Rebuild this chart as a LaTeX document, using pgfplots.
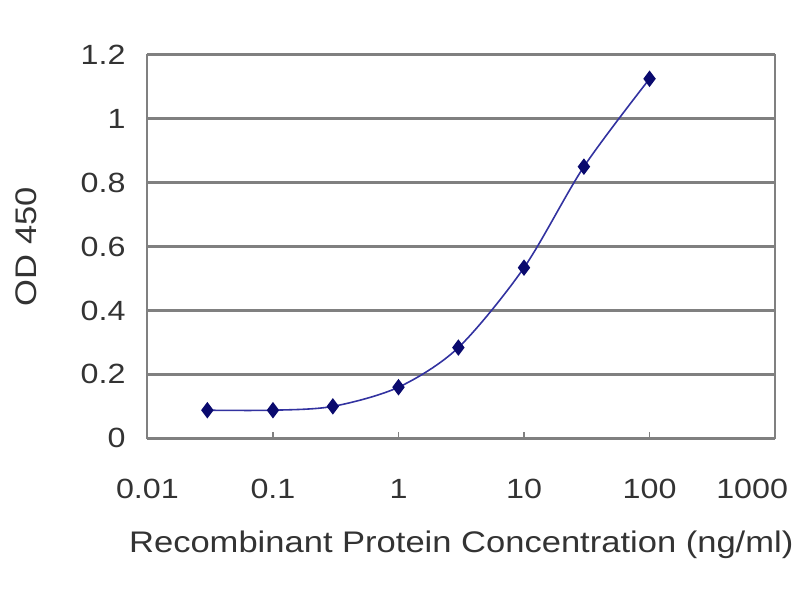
\documentclass[border=0pt]{standalone}
\usepackage{pgfplots}
\pgfplotsset{compat=1.18}
\usepackage{fontspec}
\setmainfont[FakeStretch=1.16]{Liberation Sans}
\definecolor{navyline}{RGB}{50,50,160}
\definecolor{navymark}{RGB}{10,10,110}
\definecolor{gridgray}{RGB}{128,128,128}
\begin{document}
\begin{tikzpicture}
\begin{axis}[
    scale only axis,
    width=315bp, height=192.5bp,
    xmode=log,
    xmin=0.01, xmax=1000,
    ymin=0, ymax=1.2,
    xtick={0.01,0.1,1,10,100,1000},
    xticklabels={0.01,0.1,1,10,100,\makebox[0pt]{\hspace*{-23bp}1000}},
    ytick={0,0.2,0.4,0.6,0.8,1,1.2},
    yticklabels={0,0.2,0.4,0.6,0.8,1,1.2},
    minor tick num=0,
    minor tick style={draw=none},
    ymajorgrids,
    grid style={gridgray, line width=1.6bp},
    axis line style={gridgray, line width=1bp},
    tick style={gridgray, line width=0.8bp},
    major tick length=3bp,
    xtick pos=bottom, ytick pos=left,
    tick label style={font=\fontsize{14}{16}\selectfont, text=black!80},
    xticklabel style={yshift=-17bp},
    yticklabel style={xshift=-7.5bp},
    /pgf/number format/assume math mode=true,
    xlabel={Recombinant Protein Concentration (ng/ml)},
    ylabel={OD 450},
    label style={font=\fontsize{15}{17}\selectfont, text=black!80},
    xlabel style={yshift=-9bp},
    ylabel style={yshift=15bp},
    clip=false,
]
\addplot[navyline, line width=0.8bp, smooth, tension=0.5,
    mark=diamond*, mark size=3.5bp,
    mark options={fill=navymark, draw=navymark, solid}]
    coordinates {
    (0.03,0.088) (0.1,0.088) (0.3,0.1) (1,0.16) (3,0.284) (10,0.534) (30,0.85) (100,1.125)
};
\coordinate (o) at (rel axis cs:0,0);
\end{axis}
\path ([shift={(-74bp,-80bp)}]o) rectangle ([shift={(326bp,220bp)}]o);
\end{tikzpicture}
\end{document}
